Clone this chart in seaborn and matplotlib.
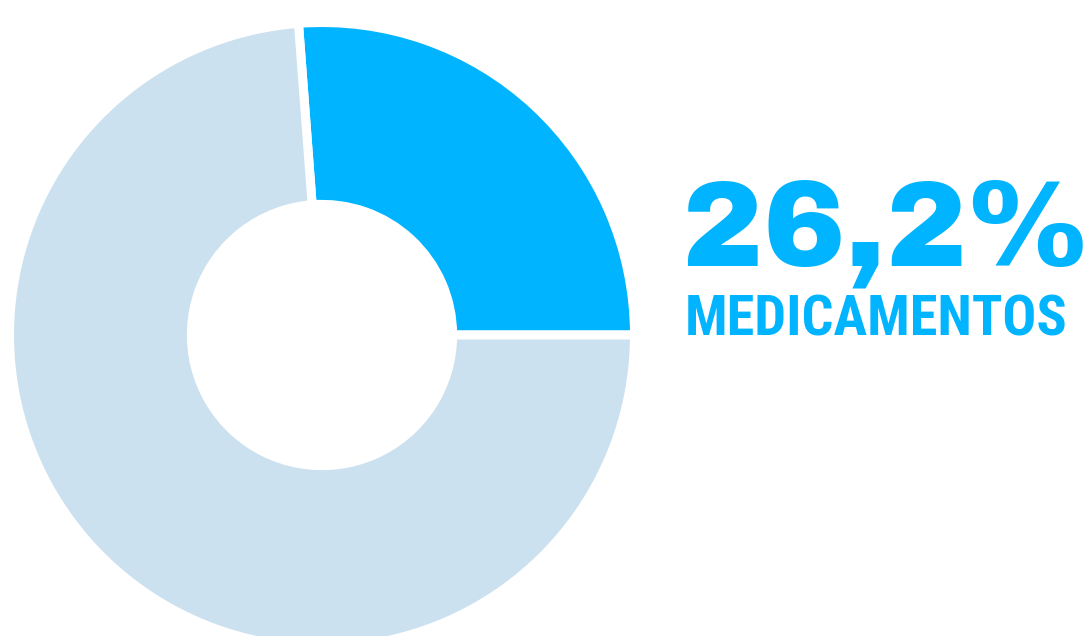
import matplotlib.pyplot as plt
import seaborn as sns

# Data
labels = ["Medicamentos", "Outros"]
shares = [26.2, 73.8]
colors = ["#00B4FF", "#CCE1EF"]
big_label = "26,2%"
small_label = "MEDICAMENTOS"

sns.set_theme(style="white")

fig = plt.figure(figsize=(10.92, 6.36), dpi=100)
fig.patch.set_facecolor("white")

# donut axes: centre ~ (322, 335) px, geometric radius ~ 312 px
R = 312.5
ax = fig.add_axes([(322 - R) / 1092, (636 - 335 - R) / 636, 2 * R / 1092, 2 * R / 636])
ax.pie(
    shares,
    colors=colors,
    startangle=0,
    counterclock=True,
    radius=1.0,
    wedgeprops=dict(width=0.582, edgecolor="white", linewidth=6.5),
)
ax.set_xlim(-1, 1)
ax.set_ylim(-1, 1)
ax.set_aspect("equal")
ax.axis("off")

# Labels on the right
fig.text(682 / 1092, (636 - 265) / 636, big_label, color=colors[0],
         fontsize=88, fontweight="black",
         family=["Archivo Black", "DejaVu Sans"],
         ha="left", va="baseline")
fig.text(685 / 1092, (636 - 336) / 636, small_label, color=colors[0],
         fontsize=40.5, fontweight="bold",
         family=["Roboto Condensed", "Archivo Narrow", "Barlow Condensed",
                 "Sofia Sans Condensed", "DejaVu Sans"],
         ha="left", va="baseline")

fig.savefig("out.png", dpi=100, facecolor="white")
